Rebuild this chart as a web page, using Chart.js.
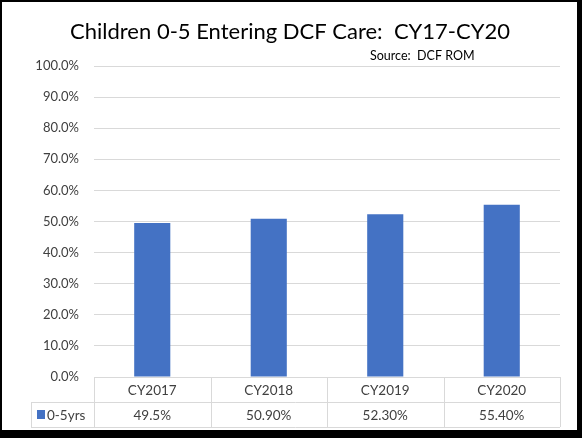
<!DOCTYPE html>
<html>
<head>
<meta charset="utf-8">
<script src="https://cdn.jsdelivr.net/npm/chart.js@4.4.1/dist/chart.umd.min.js"></script>
<style>
html,body{margin:0;padding:0;background:#fff;}
#wrap{width:582px;height:438px;position:relative;}
canvas{display:block;}
</style>
</head>
<body>
<div id="wrap"><canvas id="c" width="582" height="438"></canvas></div>
<script>
const categories = ["CY2017", "CY2018", "CY2019", "CY2020"];
const seriesName = "0-5yrs";
const values = [49.5, 50.9, 52.3, 55.4];
const valueLabels = ["49.5%", "50.90%", "52.30%", "55.40%"];
const titleText = "Children 0-5 Entering DCF Care:  CY17-CY20";
const sourceText = "Source:  DCF ROM";

const FONT = "Lato, 'Noto Sans', sans-serif";
const BAR = "#4472C4";
const GRID = "#d9d9d9";
const TEXT = "#404040";

const framePlugin = {
  id: 'frame',
  afterDraw(chart) {
    const ctx = chart.ctx;
    const W = chart.width, H = chart.height;
    const a = chart.chartArea;
    const x = chart.scales.x;
    ctx.save();
    // title
    ctx.fillStyle = "#000";
    ctx.font = "22px " + FONT;
    ctx.textAlign = "center";
    ctx.textBaseline = "middle";
    ctx.fillText(titleText, 290, 32);
    ctx.font = "12.5px " + FONT;
    ctx.textAlign = "left";
    ctx.fillStyle = "#000";
    ctx.fillText(sourceText, 370, 56);

    // data table
    const top = a.bottom, mid = a.bottom + 25, bot = a.bottom + 50, lx = 31;
    ctx.strokeStyle = GRID;
    ctx.lineWidth = 1;
    ctx.beginPath();
    ctx.moveTo(a.left, top + 0.5); ctx.lineTo(a.right, top + 0.5);
    ctx.moveTo(lx, mid + 0.5); ctx.lineTo(a.right, mid + 0.5);
    ctx.moveTo(lx, bot + 0.5); ctx.lineTo(a.right, bot + 0.5);
    ctx.moveTo(lx + 0.5, mid); ctx.lineTo(lx + 0.5, bot);
    const n = categories.length;
    const step = (a.right - a.left) / n;
    for (let i = 0; i <= n; i++) {
      const bx = Math.round(a.left + i * step) + 0.5;
      ctx.moveTo(bx, top); ctx.lineTo(bx, bot);
    }
    ctx.stroke();

    ctx.fillStyle = TEXT;
    ctx.font = "13.5px " + FONT;
    ctx.textAlign = "center";
    ctx.textBaseline = "middle";
    categories.forEach((c, i) => {
      const cx = x.getPixelForValue(i);
      ctx.fillText(c, cx, (top + mid) / 2 + 1);
      ctx.fillText(valueLabels[i], cx, (mid + bot) / 2 + 1);
    });
    // legend key
    ctx.fillStyle = BAR;
    ctx.fillRect(37, mid + 8, 8, 9);
    ctx.fillStyle = TEXT;
    ctx.textAlign = "left";
    ctx.fillText(seriesName, 47, (mid + bot) / 2 + 1);

    // outer black frame
    ctx.fillStyle = "#000";
    ctx.fillRect(0, 0, W, 2);
    ctx.fillRect(0, 0, 2, H);
    ctx.fillRect(W - 5, 0, 5, H);
    ctx.fillRect(0, H - 8, W, 8);
    ctx.restore();
  }
};

new Chart(document.getElementById('c'), {
  type: 'bar',
  data: {
    labels: categories,
    datasets: [{
      label: seriesName,
      data: values,
      backgroundColor: BAR,
      barPercentage: 0.31,
      categoryPercentage: 1.0
    }]
  },
  options: {
    responsive: false,
    animation: false,
    devicePixelRatio: 1,
    layout: { padding: { top: 66, bottom: 61, left: 0, right: 22 } },
    plugins: { legend: { display: false }, tooltip: { enabled: false }, title: { display: false } },
    scales: {
      x: { display: false },
      y: {
        min: 0, max: 100,
        afterFit(s) { s.width = 94; },
        border: { display: false },
        grid: { color: GRID, drawTicks: false, lineWidth: 1 },
        ticks: {
          stepSize: 10,
          padding: 15,
          color: TEXT,
          font: { family: FONT, size: 13 },
          callback: v => v.toFixed(1) + '%'
        }
      }
    }
  },
  plugins: [framePlugin]
});
</script>
</body>
</html>
